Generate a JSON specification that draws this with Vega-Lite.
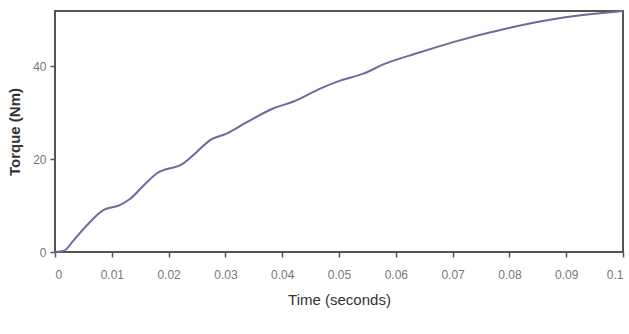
{
  "$schema": "https://vega.github.io/schema/vega-lite/v6.json",
  "width": 568,
  "height": 241,
  "autosize": {"type": "none"},
  "padding": {"left": 55, "top": 11, "right": 6, "bottom": 82},
  "background": "white",
  "config": {
    "view": {"stroke": "#555555", "strokeWidth": 2},
    "axis": {
      "labelFont": "Liberation Sans",
      "labelFontSize": 12,
      "labelColor": "#777777",
      "titleFont": "Liberation Sans",
      "titleColor": "#333333",
      "domain": false,
      "grid": false,
      "tickColor": "#555555",
      "tickWidth": 1.5,
      "tickSize": 5
    }
  },
  "data": {
    "values": [
      {"t": 0.0, "v": 0.0},
      {"t": 0.0015, "v": 0.2},
      {"t": 0.0032, "v": 2.4},
      {"t": 0.0055, "v": 5.6},
      {"t": 0.0085, "v": 9.0},
      {"t": 0.0114, "v": 10.1},
      {"t": 0.0132, "v": 11.4},
      {"t": 0.0155, "v": 14.2},
      {"t": 0.0179, "v": 16.9},
      {"t": 0.0226, "v": 19.1},
      {"t": 0.025, "v": 21.6},
      {"t": 0.0273, "v": 24.1},
      {"t": 0.0302, "v": 25.5},
      {"t": 0.0337, "v": 27.9},
      {"t": 0.0384, "v": 30.9},
      {"t": 0.042, "v": 32.4},
      {"t": 0.0467, "v": 35.2},
      {"t": 0.0502, "v": 36.9},
      {"t": 0.0543, "v": 38.4},
      {"t": 0.0578, "v": 40.4},
      {"t": 0.064, "v": 42.9},
      {"t": 0.0701, "v": 45.2},
      {"t": 0.0801, "v": 48.3},
      {"t": 0.0895, "v": 50.5},
      {"t": 0.0983, "v": 51.7},
      {"t": 0.1, "v": 51.9}
    ]
  },
  "mark": {"type": "line", "color": "#6b6b9e", "strokeWidth": 2, "interpolate": "monotone"},
  "encoding": {
    "x": {
      "field": "t", "type": "quantitative",
      "scale": {"domain": [0, 0.1], "nice": false},
      "axis": {
        "values": [0, 0.01, 0.02, 0.03, 0.04, 0.05, 0.06, 0.07, 0.08, 0.09, 0.1],
        "format": "~g",
        "labelPadding": 12,
        "title": "Time (seconds)",
        "titleFontSize": 15,
        "titleFontWeight": "normal",
        "titlePadding": 12
      }
    },
    "y": {
      "field": "v", "type": "quantitative",
      "scale": {"domain": [0, 51.9], "nice": false},
      "axis": {
        "values": [0, 20, 40],
        "labelPadding": 4,
        "title": "Torque (Nm)",
        "titleFontSize": 15,
        "titleFontWeight": "bold",
        "titlePadding": 10
      }
    }
  }
}
